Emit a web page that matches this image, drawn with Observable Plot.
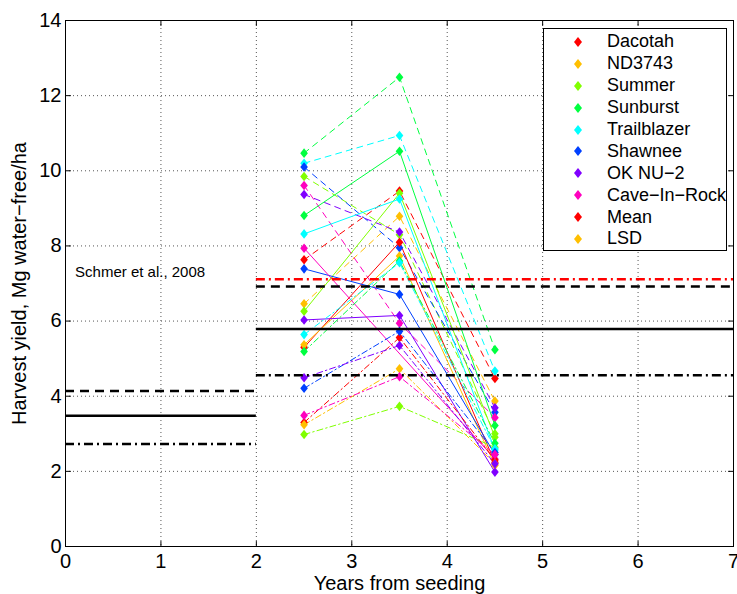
<!DOCTYPE html>
<html><head><meta charset="utf-8">
<script src="https://cdn.jsdelivr.net/npm/d3@7"></script>
<script src="https://cdn.jsdelivr.net/npm/@observablehq/plot@0.6"></script>
<style>
html,body{margin:0;padding:0;background:#fff;}
#wrap{position:relative;width:737px;height:594px;overflow:hidden;font-family:"Liberation Sans",Arial,Helvetica,sans-serif;}
#legend{position:absolute;left:543px;top:28px;width:182px;height:219px;border:1px solid #000;background:#fff;padding-top:2px;}
.row{height:21.9px;display:flex;align-items:center;font-size:18px;color:#000;}
.row svg{margin-left:29px;width:10px;height:12px;flex:none;}
.row span{margin-left:24px;white-space:nowrap;}
</style></head><body><div id="wrap"></div>
<script>
// ---- data ----
const years = [2.5, 3.5, 4.5];
const varieties = ["Dacotah", "ND3743", "Summer", "Sunburst", "Trailblazer", "Shawnee", "OK NU\u22122", "Cave\u2212In\u2212Rock"];
const varietyColors = ["#ff0000", "#ffbf00", "#80ff00", "#00ff40", "#00ffff", "#0040ff", "#8000ff", "#ff00bf"];
// yields at 2.5, 3.5, 4.5 years, one row per variety (same order as varieties)
const siteDashed = [
  [7.63, 9.46, 4.47],
  [6.46, 8.79, 3.87],
  [9.85, 8.30, 3.00],
  [10.47, 12.49, 5.24],
  [10.20, 10.94, 4.67],
  [10.10, 7.95, 3.57],
  [9.37, 8.37, 3.69],
  [9.61, 5.94, 3.43]
];
const siteSolid = [
  [5.30, 8.10, 2.24],
  [5.37, 7.73, 2.16],
  [6.26, 9.40, 2.91],
  [8.81, 10.52, 3.22],
  [8.32, 9.25, 2.57],
  [7.39, 6.71, 2.45],
  [6.03, 6.15, 1.98],
  [7.94, null, 2.33]
];
const siteDashDot = [
  [3.30, 5.56, 2.30],
  [3.24, 4.73, 2.20],
  [2.98, 3.73, 2.64],
  [5.19, 7.60, 2.75],
  [5.64, 7.55, 2.60],
  [4.21, 5.73, 2.50],
  [4.49, 5.35, 2.20],
  [3.49, 4.52, 2.45]
];
const legendLabels = [...varieties, "Mean", "LSD"];
const legendColors = [...varietyColors, "#ff0000", "#ffbf00"];
// Schmer et al. 2008 (years 0-2): mean, upper, lower
const schmerSpan = [0, 2];
const schmerMean = 3.48, schmerUpper = 4.14, schmerLower = 2.73;
// this study (years 2-7)
const studySpan = [2, 7];
const studyMean = 5.79, studyUpper = 6.92, studyLower = 4.56, studyRed = 7.11;
const annotationText = "Schmer et al., 2008";
const annotationX = 0.1, annotationY = 7.3;
const xTicks = [0, 1, 2, 3, 4, 5, 6, 7];
const yTicks = [0, 2, 4, 6, 8, 10, 12, 14];
const xLabel = "Years from seeding";
const yLabel = "Harvest yield, Mg water\u2212free/ha";

// ---- build rows ----
function rowsOf(values, site) {
  const out = [];
  values.forEach((vals, i) => vals.forEach((v, j) => {
    if (v != null) out.push({site, variety: varieties[i], color: varietyColors[i], x: years[j], y: v});
  }));
  return out;
}
const dashedRows = rowsOf(siteDashed, "dashed");
const solidRows = rowsOf(siteSolid, "solid");
const dashDotRows = rowsOf(siteDashDot, "dashdot");

const diamond = {
  draw(ctx, size) {
    const h = Math.sqrt(size) * 0.6, w = h * 0.8;
    ctx.moveTo(0, -h); ctx.lineTo(w, 0); ctx.lineTo(0, h); ctx.lineTo(-w, 0); ctx.closePath();
  }
};
const tickShape = {draw(ctx, l) { ctx.moveTo(0, 0); ctx.lineTo(0, -l); }};

const seg = (span, y) => [{x1: span[0], x2: span[1], y}];
const xMin = xTicks[0], xMax = xTicks[xTicks.length - 1];
const yMin = yTicks[0], yMax = yTicks[yTicks.length - 1];

const lineOpts = {x: "x", y: "y", z: "variety", stroke: "color", strokeWidth: 1};
const dotOpts = {x: "x", y: "y", fill: "color", symbol: diamond, r: 4.5};
const tickOpts = {length: 5, anchor: "start", shape: tickShape, stroke: "black", strokeWidth: 1};

const chart = Plot.plot({
  width: 737, height: 594,
  marginLeft: 65, marginRight: 4, marginTop: 20, marginBottom: 48,
  x: {domain: [xMin, xMax]},
  y: {domain: [yMin, yMax]},
  color: {type: "identity"},
  style: {fontFamily: "'Liberation Sans', Arial, Helvetica, sans-serif", fontSize: "20px", background: "white", color: "black"},
  marks: [
    Plot.gridX(xTicks, {stroke: "#555", strokeOpacity: 1, strokeDasharray: "1,3"}),
    Plot.gridY(yTicks, {stroke: "#555", strokeOpacity: 1, strokeDasharray: "1,3"}),
    Plot.line(dashedRows, {...lineOpts, strokeDasharray: "6,5"}),
    Plot.line(solidRows, lineOpts),
    Plot.line(dashDotRows, {...lineOpts, strokeDasharray: "6,3,1.5,3"}),
    Plot.dot(dashedRows, dotOpts),
    Plot.dot(solidRows, dotOpts),
    Plot.dot(dashDotRows, dotOpts),
    Plot.ruleY(seg(schmerSpan, schmerMean), {x1: "x1", x2: "x2", y: "y", stroke: "black", strokeWidth: 2.5}),
    Plot.ruleY(seg(schmerSpan, schmerUpper), {x1: "x1", x2: "x2", y: "y", stroke: "black", strokeWidth: 2.5, strokeDasharray: "9,6"}),
    Plot.ruleY(seg(schmerSpan, schmerLower), {x1: "x1", x2: "x2", y: "y", stroke: "black", strokeWidth: 2.5, strokeDasharray: "9,4,2,4"}),
    Plot.ruleY(seg(studySpan, studyRed), {x1: "x1", x2: "x2", y: "y", stroke: "#ff0000", strokeWidth: 2.5, strokeDasharray: "9,4,2,4"}),
    Plot.ruleY(seg(studySpan, studyUpper), {x1: "x1", x2: "x2", y: "y", stroke: "black", strokeWidth: 2.5, strokeDasharray: "9,6"}),
    Plot.ruleY(seg(studySpan, studyMean), {x1: "x1", x2: "x2", y: "y", stroke: "black", strokeWidth: 2.5}),
    Plot.ruleY(seg(studySpan, studyLower), {x1: "x1", x2: "x2", y: "y", stroke: "black", strokeWidth: 2.5, strokeDasharray: "9,4,2,4"}),
    Plot.text([annotationText], {x: () => annotationX, y: () => annotationY, text: d => d, textAnchor: "start", fontSize: 15}),
    Plot.frame({stroke: "black"}),
    // inward ticks on all four sides
    Plot.vector(xTicks, {...tickOpts, x: d => d, y: () => yMin, rotate: 0}),
    Plot.vector(xTicks, {...tickOpts, x: d => d, y: () => yMax, rotate: 180}),
    Plot.vector(yTicks, {...tickOpts, x: () => xMin, y: d => d, rotate: 90}),
    Plot.vector(yTicks, {...tickOpts, x: () => xMax, y: d => d, rotate: -90}),
    Plot.axisX(xTicks, {anchor: "bottom", tickSize: 0, tickPadding: 7, label: null, fontSize: 20}),
    Plot.axisY(yTicks, {anchor: "left", tickSize: 0, tickPadding: 4, label: null, fontSize: 20}),
    Plot.text([xLabel], {frameAnchor: "bottom", dy: 43, text: d => d, textAnchor: "middle", fontSize: 20}),
    Plot.text([yLabel], {frameAnchor: "left", dx: -46, rotate: -90, text: d => d, textAnchor: "middle", fontSize: 20})
  ]
});

const wrap = document.getElementById("wrap");
wrap.appendChild(chart);

const legend = document.createElement("div");
legend.id = "legend";
legendLabels.forEach((lab, i) => {
  const row = document.createElement("div");
  row.className = "row";
  row.innerHTML = `<svg viewBox="-5 -6 10 12"><path d="M0,-5L4,0L0,5L-4,0Z" fill="${legendColors[i]}"/></svg><span></span>`;
  row.querySelector("span").textContent = lab;
  legend.appendChild(row);
});
wrap.appendChild(legend);
</script></body></html>
